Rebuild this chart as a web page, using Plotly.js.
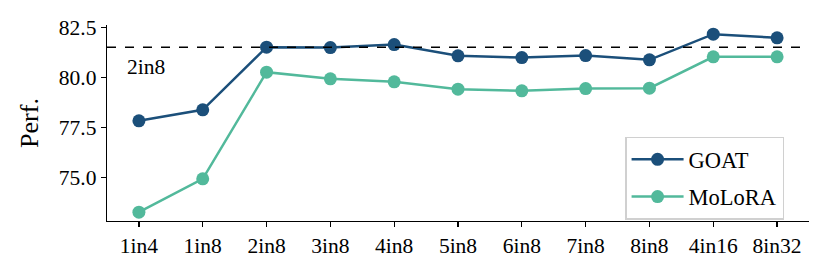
<!DOCTYPE html>
<html><head><meta charset="utf-8">
<script src="https://cdn.plot.ly/plotly-3.0.1.min.js"></script>
<style>html,body{margin:0;padding:0;background:#fff}#c{width:830px;height:277px}</style>
</head><body><div id="c"></div>
<script>
const categories = ["1in4","1in8","2in8","3in8","4in8","5in8","6in8","7in8","8in8","4in16","8in32"];
const goat = [77.84,78.39,81.52,81.50,81.65,81.09,81.00,81.10,80.89,82.17,81.99];
const molora = [73.27,74.94,80.27,79.94,79.79,79.42,79.34,79.45,79.47,81.04,81.04];
const baselineValue = 81.52;
const baselineLabel = "2in8";
const yTicks = [75.0,77.5,80.0,82.5];

const font = "Liberation Serif";
const fs = 21.5;
const traces = [
  {x: categories, y: goat, name: "GOAT", mode: "lines+markers", legendgroup: "a",
   line: {color: "#1b4f7a", width: 2.5}, marker: {color: "#1b4f7a", size: 13}},
  {x: categories, y: molora, name: "MoLoRA", mode: "lines+markers", legendgroup: "b",
   line: {color: "#52b99b", width: 2.5}, marker: {color: "#52b99b", size: 13}}
];
const layout = {
  width: 830, height: 277,
  margin: {l: 107, r: 21, t: 25, b: 56},
  paper_bgcolor: "#fff", plot_bgcolor: "#fff",
  font: {family: font, size: fs, color: "#000"},
  showlegend: true,
  legend: {x: 0.738, y: 0.43, xanchor: "left", yanchor: "top",
    bordercolor: "#d0d0d0", borderwidth: 1.5, bgcolor: "rgba(255,255,255,0.8)",
    font: {family: font, size: 22.5}, itemwidth: 52, tracegroupgap: 5},
  xaxis: {type: "category", range: [-0.5, 10.5], showgrid: false, zeroline: false,
    showline: true, linecolor: "#000", linewidth: 1.3, ticks: "outside", ticklen: 5,
    tickwidth: 1.3, tickcolor: "#000", tickfont: {family: font, size: fs}},
  yaxis: {range: [72.83, 82.63], showgrid: false, zeroline: false, tickvals: yTicks,
    ticktext: yTicks.map(v => v.toFixed(1)),
    showline: true, linecolor: "#000", linewidth: 1.3, ticks: "outside", ticklen: 5,
    tickwidth: 1.3, tickcolor: "#000", tickfont: {family: font, size: fs},
    title: {text: "Perf.", font: {family: font, size: 26}, standoff: 12}},
  shapes: [{type: "line", xref: "paper", x0: 0, x1: 1, yref: "y", y0: baselineValue, y1: baselineValue,
    line: {color: "#000", width: 1.5, dash: "dash"}}],
  annotations: [{xref: "paper", x: 0.026, yref: "y", y: baselineValue, yshift: -20,
    text: baselineLabel, showarrow: false, xanchor: "left", font: {family: font, size: fs}}]
};
Plotly.newPlot("c", traces, layout, {displayModeBar: false, staticPlot: true});
</script></body></html>
